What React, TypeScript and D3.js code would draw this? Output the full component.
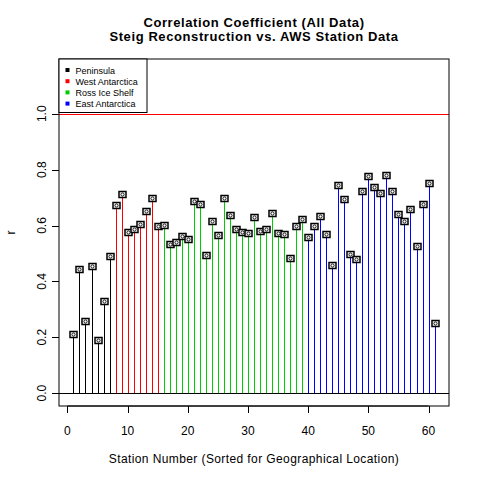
import React from "react";
import * as d3 from "d3";

const values: number[] = [
  0.212, 0.443, 0.258, 0.454, 0.189, 0.330, 0.490,
  0.675, 0.713, 0.577, 0.587, 0.606, 0.653, 0.697, 0.600,
  0.601, 0.533, 0.540, 0.563, 0.550, 0.688, 0.677, 0.496, 0.617, 0.567,
  0.699, 0.637, 0.588, 0.577, 0.573, 0.630, 0.581, 0.587, 0.645, 0.574,
  0.571, 0.484, 0.597, 0.624,
  0.559, 0.599, 0.634, 0.569, 0.459, 0.745, 0.695, 0.499, 0.481, 0.722,
  0.776, 0.737, 0.718, 0.780, 0.722, 0.643, 0.615, 0.658, 0.527, 0.676,
  0.751, 0.252,
];

const regionNames: string[] = ["Peninsula", "West Antarctica", "Ross Ice Shelf", "East Antarctica"];
const regionColors: string[] = ["#000000", "#FF0000", "#00CD00", "#0000FF"];
// number of stations per region, in order
const regionCounts: number[] = [7, 8, 24, 22];

const xTicks: number[] = [0, 10, 20, 30, 40, 50, 60];
const yTicks: number[] = [0, 0.2, 0.4, 0.6, 0.8, 1.0];

const title1 = "Correlation Coefficient (All Data)";
const title2 = "Steig Reconstruction vs. AWS Station Data";
const xLabel = "Station Number (Sorted for Geographical Location)";
const yLabel = "r";

export default function App() {
  const left = 59, right = 449, top = 59, bottom = 406;
  const x = d3.scaleLinear().domain([-1.4, 63.4]).range([left, right]);
  const y = d3.scaleLinear().domain([-0.046, 1.196]).range([bottom, top]);

  const regionOf: number[] = [];
  regionCounts.forEach((c, i) => { for (let k = 0; k < c; k++) regionOf.push(i); });

  const font = "Liberation Sans, Arial, Helvetica, sans-serif";
  const y0 = y(0);

  return (
    <svg width={480} height={480} style={{ position: "absolute", left: 0, top: 0, background: "#fff" }} fontFamily={font}>
      <rect x={0} y={0} width={480} height={480} fill="#fff" />
      <text x={(left + right) / 2} y={27} textAnchor="middle" fontWeight="bold" fontSize={13} letterSpacing={0.6}>{title1}</text>
      <text x={(left + right) / 2} y={41} textAnchor="middle" fontWeight="bold" fontSize={13} letterSpacing={0.6}>{title2}</text>

      {/* reference lines */}
      <line x1={left} x2={right} y1={Math.round(y(1)) + 0.5} y2={Math.round(y(1)) + 0.5} stroke="#FF0000" strokeWidth={1} />
      <line x1={left} x2={right} y1={Math.round(y0) + 0.5} y2={Math.round(y0) + 0.5} stroke="#000" strokeWidth={1} />

      {/* stems */}
      {values.map((v, i) => {
        const cx = Math.round(x(i + 1)) + 0.5;
        return <line key={"s" + i} x1={cx} x2={cx} y1={y0} y2={y(v)} stroke={regionColors[regionOf[i]]} strokeWidth={1} />;
      })}
      {/* markers */}
      {values.map((v, i) => {
        const cx = Math.round(x(i + 1)) + 0.5;
        const cy = Math.round(y(v)) + 0.5;
        return (
          <g key={"m" + i}>
            <rect x={cx - 3.5} y={cy - 3} width={7} height={6} fill="#fff" stroke="#000" strokeWidth={1.5} />
            <circle cx={cx} cy={cy} r={1.6} fill="none" stroke="#000" strokeWidth={0.9} />
          </g>
        );
      })}

      {/* plot box */}
      <rect x={left} y={top} width={right - left} height={bottom - top} fill="none" stroke="#000" strokeWidth={1} />

      {/* legend */}
      <rect x={left} y={top} width={88} height={53.5} fill="#fff" stroke="#000" strokeWidth={1} />
      {regionNames.map((n, i) => (
        <g key={"l" + i}>
          <rect x={65.5} y={68 + i * 11.2} width={4} height={4} fill={regionColors[i]} />
          <text x={75.5} y={73.5 + i * 11.2} fontSize={9}>{n}</text>
        </g>
      ))}

      {/* x axis */}
      <line x1={x(0)} x2={x(60)} y1={bottom} y2={bottom} stroke="#000" />
      {xTicks.map((t) => (
        <g key={"xt" + t}>
          <line x1={Math.round(x(t)) + 0.5} x2={Math.round(x(t)) + 0.5} y1={bottom} y2={bottom + 7} stroke="#000" />
          <text x={x(t)} y={435} textAnchor="middle" fontSize={12}>{t}</text>
        </g>
      ))}
      <text x={(left + right) / 2} y={463} textAnchor="middle" fontSize={12} letterSpacing={0.4}>{xLabel}</text>

      {/* y axis */}
      {yTicks.map((t) => (
        <g key={"yt" + t}>
          <line x1={left - 7} x2={left} y1={Math.round(y(t)) + 0.5} y2={Math.round(y(t)) + 0.5} stroke="#000" />
          <text transform={`translate(45.5,${y(t)}) rotate(-90)`} textAnchor="middle" fontSize={12}>{t.toFixed(1)}</text>
        </g>
      ))}
      <text transform={`translate(15,${(top + bottom) / 2}) rotate(-90)`} textAnchor="middle" fontSize={12}>{yLabel}</text>
    </svg>
  );
}
